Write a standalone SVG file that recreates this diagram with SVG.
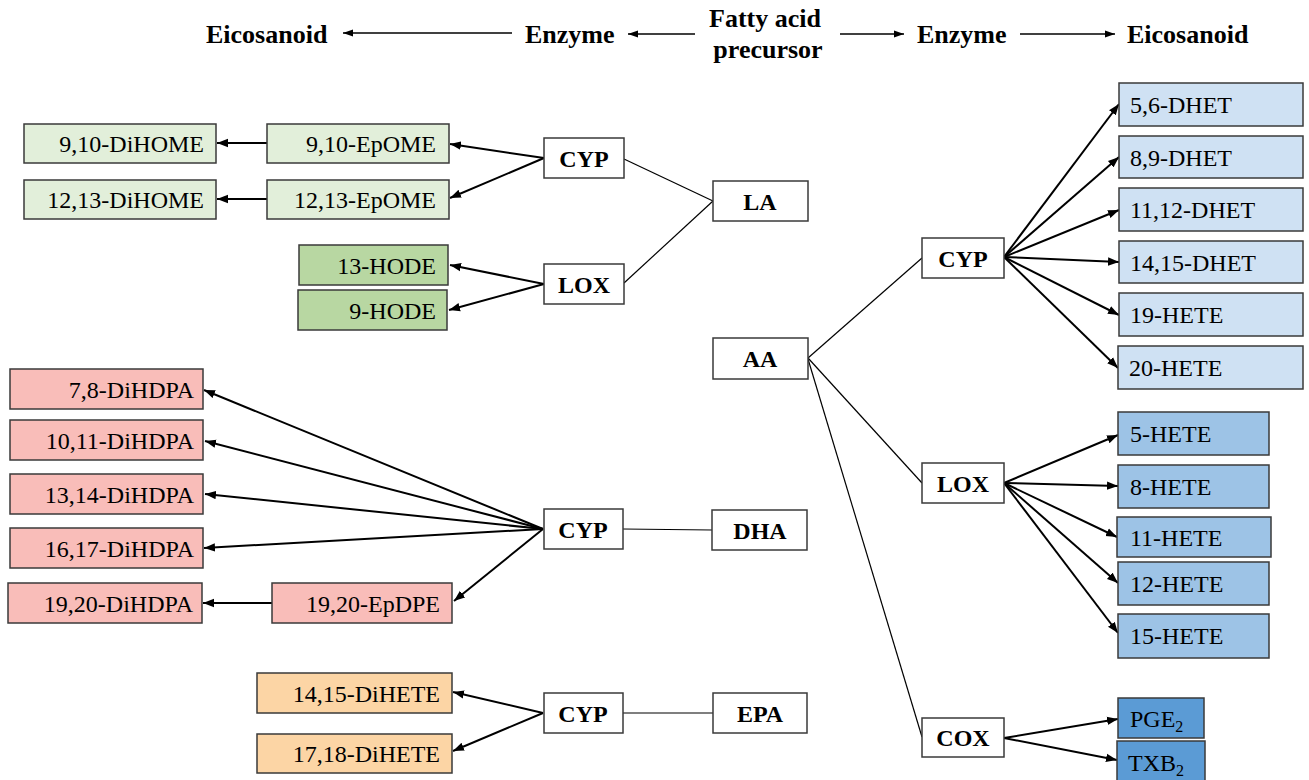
<svg xmlns="http://www.w3.org/2000/svg" width="1309" height="780" viewBox="0 0 1309 780">
<style>
text{font-family:"Liberation Serif","Times New Roman",serif;fill:#000}
.h{font-size:26px;font-weight:bold}
.e{font-size:24px;font-weight:bold;text-anchor:middle}
.l{font-size:24px;text-anchor:end}
.r{font-size:24px;text-anchor:start}
.b{stroke:#3a3a3a;stroke-width:1.5}
.w{fill:#fff}
.g1{fill:#e2efda}.g2{fill:#b8d7a2}.pk{fill:#f9bdb9}.or{fill:#fcd5a5}
.b1{fill:#cfe1f3}.b2{fill:#9dc3e6}.b3{fill:#5b9bd5}
.a{stroke:#000;stroke-width:2;fill:none;marker-end:url(#ah)}
.t{stroke:#000;stroke-width:1.2;fill:none}
.ha{stroke:#000;stroke-width:1.5;fill:none;marker-end:url(#hh)}
</style>
<defs>
<marker id="ah" markerUnits="userSpaceOnUse" markerWidth="12" markerHeight="10" refX="11" refY="5" orient="auto"><path d="M0,0.8 L11,5 L0,9.2 z" fill="#000"/></marker>
<marker id="hh" markerUnits="userSpaceOnUse" markerWidth="11" markerHeight="8" refX="10" refY="4" orient="auto"><path d="M0,0.5 L10,4 L0,7.5 z" fill="#000"/></marker>
</defs>
<rect width="1309" height="780" fill="#fff"/>

<g id="header">
<text class="h" x="206" y="43">Eicosanoid</text>
<text class="h" x="525" y="43">Enzyme</text>
<text class="h" x="765" y="27" text-anchor="middle">Fatty acid</text>
<text class="h" x="768" y="58" text-anchor="middle">precursor</text>
<text class="h" x="917" y="43">Enzyme</text>
<text class="h" x="1127" y="43">Eicosanoid</text>
<line class="ha" x1="512" y1="33" x2="343" y2="33"/>
<line class="ha" x1="695" y1="34" x2="628" y2="34"/>
<line class="ha" x1="840" y1="34" x2="904" y2="34"/>
<line class="ha" x1="1020" y1="34" x2="1115" y2="34"/>
</g>

<g id="connectors">
<line class="a" x1="544" y1="158" x2="450" y2="144"/>
<line class="a" x1="544" y1="158" x2="450" y2="198"/>
<line class="a" x1="544" y1="284" x2="450" y2="265"/>
<line class="a" x1="544" y1="284" x2="449" y2="310"/>
<line class="a" x1="267" y1="143" x2="217" y2="143"/>
<line class="a" x1="267" y1="199" x2="217" y2="199"/>
<line class="t" x1="624" y1="159" x2="713" y2="201"/>
<line class="t" x1="624" y1="283" x2="713" y2="201"/>

<line class="a" x1="543" y1="529" x2="204" y2="390"/>
<line class="a" x1="543" y1="529" x2="205" y2="441"/>
<line class="a" x1="543" y1="529" x2="205" y2="494"/>
<line class="a" x1="543" y1="529" x2="204" y2="548"/>
<line class="a" x1="543" y1="529" x2="454" y2="601"/>
<line class="a" x1="272" y1="603" x2="203" y2="603"/>
<line class="t" x1="623" y1="529" x2="712" y2="530"/>

<line class="a" x1="543" y1="713" x2="453" y2="692"/>
<line class="a" x1="543" y1="713" x2="453" y2="751"/>
<line class="t" x1="623" y1="713" x2="713" y2="713"/>

<line class="t" x1="808" y1="358" x2="922" y2="258"/>
<line class="t" x1="808" y1="358" x2="922" y2="483"/>
<line class="t" x1="808" y1="359" x2="922" y2="737"/>

<line class="a" x1="1004" y1="257" x2="1119" y2="104"/>
<line class="a" x1="1004" y1="257" x2="1119" y2="157"/>
<line class="a" x1="1004" y1="257" x2="1119" y2="210"/>
<line class="a" x1="1004" y1="257" x2="1119" y2="262"/>
<line class="a" x1="1004" y1="257" x2="1119" y2="315"/>
<line class="a" x1="1004" y1="257" x2="1118" y2="368"/>

<line class="a" x1="1004" y1="483" x2="1118" y2="435"/>
<line class="a" x1="1004" y1="483" x2="1118" y2="486"/>
<line class="a" x1="1004" y1="483" x2="1117" y2="537"/>
<line class="a" x1="1004" y1="483" x2="1118" y2="583"/>
<line class="a" x1="1004" y1="483" x2="1118" y2="633"/>

<line class="a" x1="1004" y1="738" x2="1118" y2="719"/>
<line class="a" x1="1004" y1="738" x2="1117" y2="760"/>
</g>

<g id="n-910DiHOME"><rect class="b g1" x="24" y="124" width="192" height="39"/><text class="l" x="204" y="152">9,10-DiHOME</text></g>
<g id="n-1213DiHOME"><rect class="b g1" x="24" y="180" width="192" height="39"/><text class="l" x="204" y="208">12,13-DiHOME</text></g>
<g id="n-910EpOME"><rect class="b g1" x="267" y="124" width="182" height="39"/><text class="l" x="436" y="152">9,10-EpOME</text></g>
<g id="n-1213EpOME"><rect class="b g1" x="267" y="180" width="182" height="39"/><text class="l" x="436" y="208">12,13-EpOME</text></g>
<g id="n-13HODE"><rect class="b g2" x="299" y="245" width="149" height="40"/><text class="l" x="436" y="274">13-HODE</text></g>
<g id="n-9HODE"><rect class="b g2" x="298" y="290" width="149" height="40"/><text class="l" x="436" y="319">9-HODE</text></g>
<g id="n-CYP-LA"><rect class="b w" x="544" y="138" width="80" height="40"/><text class="e" x="584" y="167">CYP</text></g>
<g id="n-LOX-LA"><rect class="b w" x="544" y="264" width="80" height="40"/><text class="e" x="584" y="293">LOX</text></g>
<g id="n-LA"><rect class="b w" x="713" y="181" width="95" height="40"/><text class="e" x="760" y="210">LA</text></g>

<g id="n-78DiHDPA"><rect class="b pk" x="10" y="369" width="193" height="40"/><text class="l" x="194" y="398">7,8-DiHDPA</text></g>
<g id="n-1011DiHDPA"><rect class="b pk" x="10" y="420" width="193" height="40"/><text class="l" x="194" y="449">10,11-DiHDPA</text></g>
<g id="n-1314DiHDPA"><rect class="b pk" x="10" y="474" width="193" height="40"/><text class="l" x="194" y="503">13,14-DiHDPA</text></g>
<g id="n-1617DiHDPA"><rect class="b pk" x="10" y="528" width="193" height="40"/><text class="l" x="194" y="557">16,17-DiHDPA</text></g>
<g id="n-1920DiHDPA"><rect class="b pk" x="8" y="583" width="194" height="40"/><text class="l" x="193" y="612">19,20-DiHDPA</text></g>
<g id="n-1920EpDPE"><rect class="b pk" x="272" y="583" width="180" height="40"/><text class="l" x="440" y="612">19,20-EpDPE</text></g>
<g id="n-CYP-DHA"><rect class="b w" x="544" y="509" width="79" height="40"/><text class="e" x="583" y="538">CYP</text></g>
<g id="n-DHA"><rect class="b w" x="712" y="510" width="95" height="40"/><text class="e" x="760" y="539">DHA</text></g>

<g id="n-1415DiHETE"><rect class="b or" x="257" y="673" width="195" height="40"/><text class="l" x="440" y="702">14,15-DiHETE</text></g>
<g id="n-1718DiHETE"><rect class="b or" x="257" y="734" width="195" height="39"/><text class="l" x="440" y="762">17,18-DiHETE</text></g>
<g id="n-CYP-EPA"><rect class="b w" x="544" y="693" width="79" height="40"/><text class="e" x="583" y="722">CYP</text></g>
<g id="n-EPA"><rect class="b w" x="713" y="693" width="94" height="40"/><text class="e" x="760" y="722">EPA</text></g>

<g id="n-AA"><rect class="b w" x="713" y="338" width="95" height="41"/><text class="e" x="760" y="367">AA</text></g>
<g id="n-CYP-AA"><rect class="b w" x="922" y="238" width="82" height="40"/><text class="e" x="963" y="267">CYP</text></g>
<g id="n-LOX-AA"><rect class="b w" x="922" y="463" width="82" height="40"/><text class="e" x="963" y="492">LOX</text></g>
<g id="n-COX-AA"><rect class="b w" x="922" y="718" width="82" height="39"/><text class="e" x="963" y="746">COX</text></g>

<g id="n-56DHET"><rect class="b b1" x="1119" y="83" width="184" height="43"/><text class="r" x="1130" y="113">5,6-DHET</text></g>
<g id="n-89DHET"><rect class="b b1" x="1119" y="136" width="184" height="42"/><text class="r" x="1130" y="166">8,9-DHET</text></g>
<g id="n-1112DHET"><rect class="b b1" x="1119" y="188" width="184" height="43"/><text class="r" x="1130" y="218">11,12-DHET</text></g>
<g id="n-1415DHET"><rect class="b b1" x="1119" y="241" width="184" height="42"/><text class="r" x="1130" y="271">14,15-DHET</text></g>
<g id="n-19HETE"><rect class="b b1" x="1119" y="293" width="184" height="43"/><text class="r" x="1130" y="323">19-HETE</text></g>
<g id="n-20HETE"><rect class="b b1" x="1118" y="346" width="185" height="43"/><text class="r" x="1129" y="376">20-HETE</text></g>

<g id="n-5HETE"><rect class="b b2" x="1118" y="412" width="151" height="43"/><text class="r" x="1130" y="442">5-HETE</text></g>
<g id="n-8HETE"><rect class="b b2" x="1118" y="465" width="151" height="43"/><text class="r" x="1130" y="495">8-HETE</text></g>
<g id="n-11HETE"><rect class="b b2" x="1117" y="517" width="154" height="40"/><text class="r" x="1130" y="546">11-HETE</text></g>
<g id="n-12HETE"><rect class="b b2" x="1118" y="562" width="151" height="43"/><text class="r" x="1130" y="592">12-HETE</text></g>
<g id="n-15HETE"><rect class="b b2" x="1118" y="614" width="151" height="44"/><text class="r" x="1130" y="644">15-HETE</text></g>

<g id="n-PGE2"><rect class="b b3" x="1118" y="698" width="86" height="40"/><text class="r" x="1130" y="727">PGE<tspan font-size="16" dy="5">2</tspan></text></g>
<g id="n-TXB2"><rect class="b b3" x="1117" y="741" width="88" height="41"/><text class="r" x="1128" y="771">TXB<tspan font-size="16" dy="5">2</tspan></text></g>
</svg>
